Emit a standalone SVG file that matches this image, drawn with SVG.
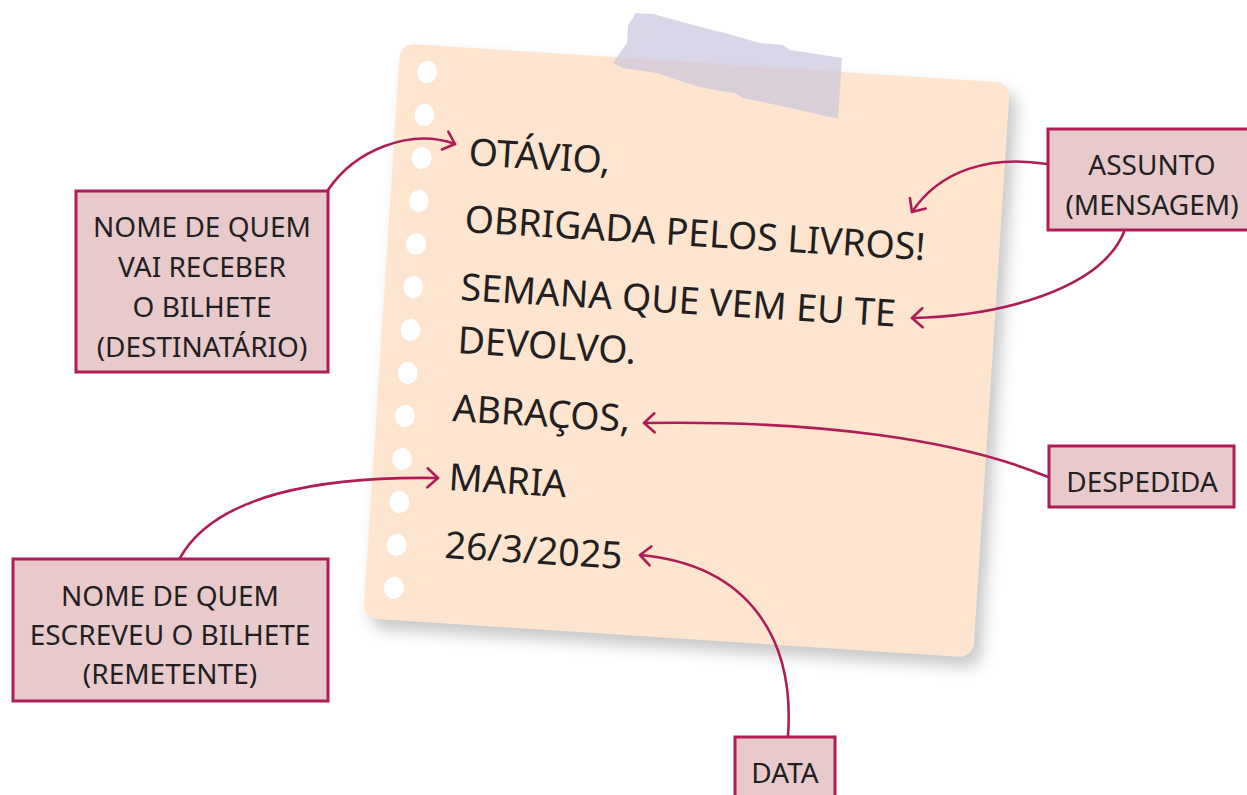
<svg xmlns="http://www.w3.org/2000/svg" width="1247" height="795" viewBox="0 0 1247 795">
  <defs>
    <style>
      .note { font-family: "Noto Sans", "Open Sans", sans-serif; font-size: 37.5px; fill: #231f20; }
      .lbl { font-family: "Noto Sans", "Open Sans", sans-serif; font-size: 28px; fill: #231f20; text-anchor: middle; }
      .box { fill: #e8cacd; stroke: #b01c55; stroke-width: 3; }
      .conn { fill: none; stroke: #b01c55; stroke-width: 2.6; stroke-linecap: round; }
      .hole { fill: #ffffff; }
    </style>
    <marker id="arr" markerUnits="userSpaceOnUse" markerWidth="40" markerHeight="40" viewBox="-20 -20 40 40" refX="0" refY="0" orient="auto" overflow="visible">
      <path d="M-10.5,-9.5 L0,0 L-10.5,9.5" fill="none" stroke="#b01c55" stroke-width="2.6" stroke-linecap="round" stroke-linejoin="round"/>
    </marker>
    <filter id="shadow" x="-10%" y="-10%" width="125%" height="125%">
      <feGaussianBlur stdDeviation="8"/>
    </filter>
  </defs>

  <!-- note paper -->
  <g id="paper">
    <g transform="rotate(3.7 686.75 350.5)">
      <rect x="389" y="72" width="611" height="576" rx="14" fill="#000000" opacity="0.22" filter="url(#shadow)"/>
      <rect x="381.25" y="62.5" width="611" height="576" rx="14" fill="#fde5d0"/>
      <ellipse class="hole" cx="409.8" cy="89.4" rx="10" ry="11"/>
      <ellipse class="hole" cx="409.8" cy="132.5" rx="10" ry="11"/>
      <ellipse class="hole" cx="409.8" cy="175.6" rx="10" ry="11"/>
      <ellipse class="hole" cx="409.8" cy="218.6" rx="10" ry="11"/>
      <ellipse class="hole" cx="409.8" cy="261.7" rx="10" ry="11"/>
      <ellipse class="hole" cx="409.8" cy="304.8" rx="10" ry="11"/>
      <ellipse class="hole" cx="409.8" cy="347.9" rx="10" ry="11"/>
      <ellipse class="hole" cx="409.8" cy="391.0" rx="10" ry="11"/>
      <ellipse class="hole" cx="409.8" cy="434.0" rx="10" ry="11"/>
      <ellipse class="hole" cx="409.8" cy="477.1" rx="10" ry="11"/>
      <ellipse class="hole" cx="409.8" cy="520.2" rx="10" ry="11"/>
      <ellipse class="hole" cx="409.8" cy="563.3" rx="10" ry="11"/>
      <ellipse class="hole" cx="409.8" cy="606.3" rx="10" ry="11"/>
    </g>
    <polygon points="633,18 635,13 653,14 712,30 725,33 760,43 783,45 790,50 810,53 842,58 838,118 830,117 777,105 743,98 735,93 715,90 700,87 678,80 657,73 637,70 623,68 613,63 627,43 628,25" fill="#c9c2dc" opacity="0.68"/>
    <text class="note" x="468" y="165" transform="rotate(3.5 468 165)">OTÁVIO,</text>
    <text class="note" x="464" y="232" transform="rotate(3.5 464 232)">OBRIGADA PELOS LIVROS!</text>
    <text class="note" x="460" y="300" transform="rotate(3.5 460 300)">SEMANA QUE VEM EU TE</text>
    <text class="note" x="457" y="353" transform="rotate(3.5 457 353)">DEVOLVO.</text>
    <text class="note" x="452" y="421" transform="rotate(3.5 452 421)">ABRAÇOS,</text>
    <text class="note" x="448" y="490" transform="rotate(3.5 448 490)">MARIA</text>
    <text class="note" x="444" y="558" transform="rotate(3.5 444 558)">26/3/2025</text>
  </g>

  <!-- connectors -->
  <g id="connectors">
    <path class="conn" d="M328,190 C355,150 410,128 455,144" marker-end="url(#arr)"/>
    <path class="conn" d="M180,558 C215,495 320,476 438,478" marker-end="url(#arr)"/>
    <path class="conn" d="M1047,164 C990,155 940,170 912,212" marker-end="url(#arr)"/>
    <path class="conn" d="M1124,232 C1100,290 1000,316 912,318" marker-end="url(#arr)"/>
    <path class="conn" d="M1048,477 C960,440 820,420 644,423" marker-end="url(#arr)"/>
    <path class="conn" d="M788,736 C795,640 750,565 640,555" marker-end="url(#arr)"/>
  </g>

  <!-- label nodes -->
  <g id="destinatario">
    <rect class="box" x="76" y="191" width="252" height="181"/>
    <text class="lbl" x="202" y="237">NOME DE QUEM</text>
    <text class="lbl" x="202" y="277">VAI RECEBER</text>
    <text class="lbl" x="202" y="317">O BILHETE</text>
    <text class="lbl" x="202" y="357">(DESTINATÁRIO)</text>
  </g>
  <g id="remetente">
    <rect class="box" x="13" y="559" width="315" height="142"/>
    <text class="lbl" x="170" y="606">NOME DE QUEM</text>
    <text class="lbl" x="170" y="645">ESCREVEU O BILHETE</text>
    <text class="lbl" x="170" y="684">(REMETENTE)</text>
  </g>
  <g id="assunto">
    <rect class="box" x="1048" y="129" width="201" height="101"/>
    <text class="lbl" x="1152" y="175">ASSUNTO</text>
    <text class="lbl" x="1152" y="215">(MENSAGEM)</text>
  </g>
  <g id="despedida">
    <rect class="box" x="1049" y="446" width="185" height="61"/>
    <text class="lbl" x="1142" y="492">DESPEDIDA</text>
  </g>
  <g id="data">
    <rect class="box" x="735" y="737" width="100" height="70"/>
    <text class="lbl" x="785" y="783">DATA</text>
  </g>
</svg>
